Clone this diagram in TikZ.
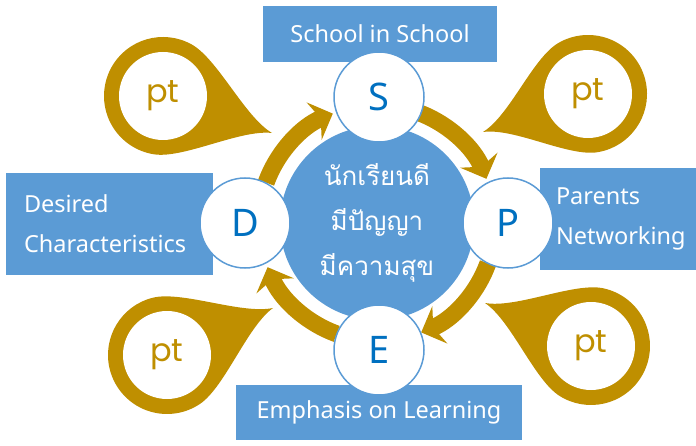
\documentclass[tikz,border=0pt]{standalone}
\usepackage{fontspec}
\setmainfont{Noto Sans}
\newfontfamily\thaifont[Script=Thai]{Loma}
\newfontfamily\ptfont{Poppins}
\usetikzlibrary{arrows.meta,calc}
\definecolor{boxblue}{HTML}{5B9BD5}
\definecolor{gold}{HTML}{BF8F00}
\definecolor{letterblue}{HTML}{0070C0}

\tikzset{
	labelbox/.style={fill=boxblue, text=white, inner sep=0pt, font=\fontsize{23.5}{40}\selectfont},
	lettercircle/.style={circle, fill=white, draw=boxblue, line width=1.5pt, minimum size=90pt, inner sep=0pt, text=letterblue, font=\fontsize{38}{40}\selectfont},
	pinhole/.style={circle, fill=white, minimum size=88pt, inner sep=0pt, text=gold, font=\ptfont\fontsize{32}{34}\selectfont},
	loopline/.style={draw=gold, line width=17pt, -{Stealth[length=20pt, width=40pt, inset=7pt]},
		preaction={draw=white, line width=21pt, -{Stealth[length=24pt, width=46pt, inset=8pt]}}}
}

% pin: #1 centre, #2 tip
\newcommand{\ptpin}[2]{
	\fill[gold] let \p1=($(#2)-(#1)$), \n1={atan2(\y1,\x1)} in
		($(#1)+(\n1+80:59)$) arc[start angle=\n1+80, end angle=\n1+280, radius=59]
		.. controls +(\n1+10:30) and +(\n1+192:32) .. (#2)
		.. controls +(\n1+168:32) and +(\n1-10:30) .. ($(#1)+(\n1+80:59)$) -- cycle;
}

\begin{document}
\begin{tikzpicture}[x=1pt, y=1pt]
	\useasboundingbox (0,0) rectangle (696,445);

	% boxes
	\node[labelbox, minimum width=234pt, minimum height=56pt] (school) at (380,411) {School in School};
	\node[labelbox, minimum width=207pt, minimum height=102pt, text width=171pt, align=left] (desired) at (109.5,221) {Desired\\Characteristics};
	\node[labelbox, minimum width=156pt, minimum height=102pt, text width=124pt, align=left] (parents) at (618,226) {Parents\\Networking};
	\node[labelbox, minimum width=286pt, minimum height=55pt] (emphasis) at (379,32.5) {Emphasis on Learning};

	% pins
	\coordinate (ulc) at (163,349); \coordinate (ult) at (272,312);
	\coordinate (urc) at (588,351); \coordinate (urt) at (483,313);
	\coordinate (llc) at (167,90);  \coordinate (llt) at (273,137);
	\coordinate (lrc) at (591,99);  \coordinate (lrt) at (485,142);
	\ptpin{ulc}{ult}
	\ptpin{urc}{urt}
	\ptpin{llc}{llt}
	\ptpin{lrc}{lrt}
	\node[pinhole] (ptul) at (ulc) {pt};
	\node[pinhole] (ptur) at (urc) {pt};
	\node[pinhole] (ptll) at (llc) {pt};
	\node[pinhole] (ptlr) at (lrc) {pt};

	% centre
	\node[circle, fill=boxblue, minimum size=194pt, inner sep=0pt] (core) at (377,222) {};
	\node[text=white, align=center, font=\thaifont\fontsize{26}{45}\selectfont] (goal) at (core) {นักเรียนดี\\มีปัญญา\\มีความสุข};

	% cycle arrows
	\foreach \a in {160,70,-20,-110}
		\draw[loopline] ([shift={(\a:118)}]core.center) arc[start angle=\a, end angle=\a-48, radius=118];

	% letters
	\node[lettercircle] (s) at (379,348) {S};
	\node[lettercircle] (p) at (508,222) {P};
	\node[lettercircle] (e) at (379,95) {E};
	\node[lettercircle] (d) at (245,222) {D};
\end{tikzpicture}
\end{document}
